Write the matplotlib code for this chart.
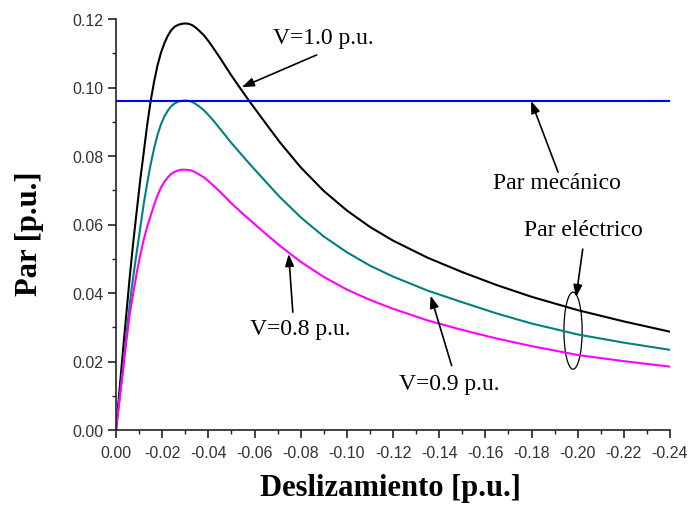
import matplotlib
matplotlib.use("Agg")
import matplotlib.pyplot as plt
from matplotlib.patches import Ellipse
from matplotlib.ticker import MultipleLocator

# DATA (slip is negative)
slip = [0, -0.0015, -0.003, -0.0045, -0.006, -0.0075, -0.009, -0.0105, -0.012, -0.0135,
        -0.015, -0.0165, -0.018, -0.0195, -0.021, -0.0225, -0.024, -0.0255, -0.027, -0.0285,
        -0.030, -0.0315, -0.033, -0.0345, -0.036, -0.038, -0.040, -0.0425, -0.045, -0.0475,
        -0.050, -0.054, -0.058, -0.065, -0.071, -0.080, -0.090, -0.100, -0.110, -0.120,
        -0.135, -0.150, -0.165, -0.180, -0.200, -0.220, -0.240]

par_v10 = [0, 0.0115, 0.023, 0.034, 0.045, 0.055, 0.064, 0.073, 0.081, 0.089,
           0.096, 0.1017, 0.1065, 0.1102, 0.1130, 0.1152, 0.1168, 0.1178, 0.1183, 0.1186,
           0.1187, 0.1186, 0.1182, 0.1175, 0.1166, 0.1153, 0.1136, 0.1112, 0.1087, 0.1061,
           0.1035, 0.0996, 0.0958, 0.0894, 0.0840, 0.0767, 0.0698, 0.0641, 0.0593, 0.0553,
           0.0503, 0.0461, 0.0423, 0.0389, 0.0350, 0.0317, 0.0287]

par_v09 = [0, 0.0092, 0.018, 0.028, 0.037, 0.045, 0.052, 0.059, 0.066, 0.072,
           0.0775, 0.0822, 0.0862, 0.0893, 0.0916, 0.0933, 0.0946, 0.0954, 0.0959, 0.0961,
           0.0962, 0.0961, 0.0958, 0.0952, 0.0945, 0.0934, 0.0920, 0.0901, 0.0880, 0.0859,
           0.0838, 0.0807, 0.0776, 0.0724, 0.0680, 0.0621, 0.0565, 0.0519, 0.0480, 0.0448,
           0.0407, 0.0373, 0.0340, 0.0311, 0.0279, 0.0255, 0.0234]

par_v08 = [0, 0.0085, 0.017, 0.026, 0.034, 0.040, 0.046, 0.051, 0.0555, 0.0593,
           0.0625, 0.0657, 0.0685, 0.0708, 0.0725, 0.0738, 0.0748, 0.0754, 0.0758, 0.0760,
           0.0760, 0.0759, 0.0757, 0.0752, 0.0746, 0.0738, 0.0727, 0.0712, 0.0696, 0.0679,
           0.0662, 0.0637, 0.0613, 0.0572, 0.0538, 0.0491, 0.0447, 0.0410, 0.0380, 0.0354,
           0.0320, 0.0292, 0.0267, 0.0245, 0.0219, 0.0201, 0.0185]

slip_mec = [0, -0.24]
par_mec = [0.0961, 0.0961]

x_ticks = [0, -0.02, -0.04, -0.06, -0.08, -0.10, -0.12, -0.14, -0.16, -0.18, -0.20, -0.22, -0.24]
x_labels = ["0.00", "-0.02", "-0.04", "-0.06", "-0.08", "-0.10", "-0.12", "-0.14",
            "-0.16", "-0.18", "-0.20", "-0.22", "-0.24"]
y_ticks = [0, 0.02, 0.04, 0.06, 0.08, 0.10, 0.12]
y_labels = ["0.00", "0.02", "0.04", "0.06", "0.08", "0.10", "0.12"]

# FIGURE
fig = plt.figure(figsize=(6.91, 5.06), dpi=100)
ax = fig.add_axes([116 / 691, 1 - 431 / 506, 554 / 691, 411 / 506])

ax.plot(slip, par_v10, color="black", lw=1.5)
ax.plot(slip, par_v09, color="#008080", lw=1.5)
ax.plot(slip, par_v08, color="#ff00ff", lw=1.5)
ax.plot(slip_mec, par_mec, color="#0000ff", lw=1.5)

ax.set_xlim(0, -0.24)
ax.set_ylim(0, 0.12)
ax.set_xticks(x_ticks)
ax.set_xticklabels(x_labels)
ax.set_yticks(y_ticks)
ax.set_yticklabels(y_labels)
ax.xaxis.set_minor_locator(MultipleLocator(0.01))
ax.yaxis.set_minor_locator(MultipleLocator(0.01))

for side in ["top", "right"]:
    ax.spines[side].set_visible(False)
for side in ["left", "bottom"]:
    ax.spines[side].set_linewidth(1.2)
    ax.spines[side].set_color("#222222")

ax.tick_params(which="major", direction="out", length=6, width=1.2, color="#222222")
ax.tick_params(which="minor", direction="out", length=3, width=1.0, color="#222222")
ax.tick_params(axis="x", pad=5)
ax.tick_params(axis="y", pad=3)
for lab in ax.get_xticklabels() + ax.get_yticklabels():
    lab.set_fontfamily("Liberation Sans")
    lab.set_fontsize(11.5)
    lab.set_color("#333333")

ax.set_xlabel("Deslizamiento [p.u.]", fontfamily="Liberation Serif", fontweight="bold",
              fontsize=22, va="center")
ax.set_ylabel("Par [p.u.]", fontfamily="Liberation Serif", fontweight="bold",
              fontsize=22, va="center")
ax.xaxis.set_label_coords(0.496, -0.141)
ax.yaxis.set_label_coords(-0.157, 0.48)

# ANNOTATIONS
txt = dict(fontfamily="Liberation Serif", fontsize=17, ha="center", va="center")
arr = dict(arrowstyle="-|>,head_length=0.6,head_width=0.22", color="black", lw=1.2,
           mutation_scale=12, shrinkA=0, shrinkB=0)

ax.text(-0.0897, 0.1147, "V=1.0 p.u.", **txt)
ax.annotate("", xy=(-0.0545, 0.1001), xytext=(-0.0869, 0.1095), arrowprops=arr)

ax.text(-0.0797, 0.0295, "V=0.8 p.u.", **txt)
ax.annotate("", xy=(-0.0748, 0.0514), xytext=(-0.0766, 0.0344), arrowprops=arr)

ax.text(-0.1443, 0.0137, "V=0.9 p.u.", **txt)
ax.annotate("", xy=(-0.1363, 0.0392), xytext=(-0.1454, 0.0188), arrowprops=arr)

ax.text(-0.191, 0.0724, "Par mecánico", **txt)
ax.annotate("", xy=(-0.1798, 0.0961), xytext=(-0.1915, 0.0753), arrowprops=arr)

ax.text(-0.2023, 0.0584, "Par eléctrico", **txt)
ax.annotate("", xy=(-0.1993, 0.0388), xytext=(-0.2022, 0.0528), arrowprops=arr)

ax.add_patch(Ellipse((-0.198, 0.029), 0.0079, 0.0225, fill=False, edgecolor="black", lw=0.9))

fig.savefig("out.png", dpi=100)
